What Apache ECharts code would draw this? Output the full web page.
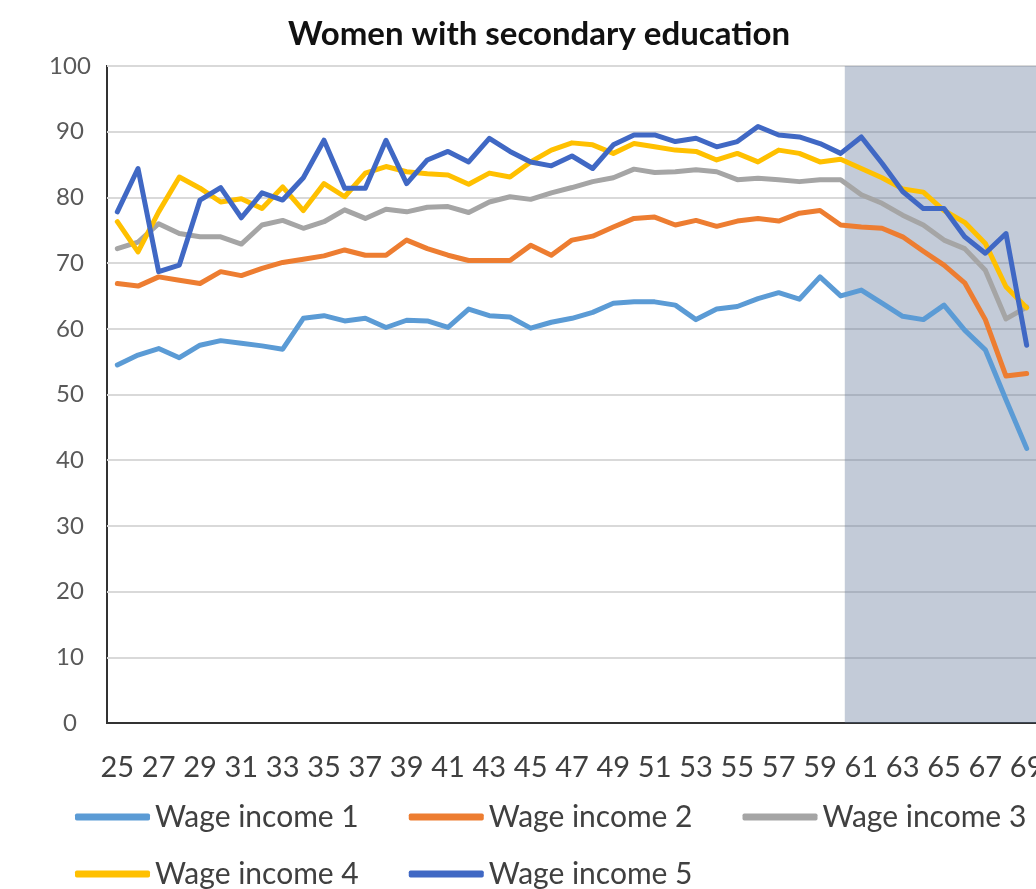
<!DOCTYPE html>
<html>
<head>
<meta charset="utf-8">
<title>Women with secondary education</title>
<script src="https://cdn.jsdelivr.net/npm/echarts@6/dist/echarts.min.js"></script>
<style>
  html, body { margin: 0; padding: 0; background: #fff; }
  #chart { width: 1036px; height: 889px; }
</style>
</head>
<body>
<div id="chart"></div>
<script>
  // ages on the x axis
  var ages = [];
  for (var a = 25; a <= 69; a++) ages.push(String(a));

  var wage1 = [54.5, 56.0, 57.0, 55.6, 57.5, 58.2, 57.8, 57.4, 56.9, 61.6,
               62.0, 61.2, 61.6, 60.2, 61.3, 61.2, 60.2, 63.0, 62.0, 61.8,
               60.1, 61.0, 61.6, 62.5, 63.9, 64.1, 64.1, 63.6, 61.4, 63.0,
               63.4, 64.6, 65.5, 64.5, 67.9, 65.0, 65.9, 63.9, 61.9, 61.4,
               63.6, 59.8, 56.8, 49.2, 41.8];
  var wage2 = [66.9, 66.5, 67.9, 67.4, 66.9, 68.7, 68.1, 69.2, 70.1, 70.6,
               71.1, 72.0, 71.2, 71.2, 73.5, 72.2, 71.2, 70.4, 70.4, 70.4,
               72.7, 71.2, 73.5, 74.1, 75.5, 76.8, 77.0, 75.8, 76.5, 75.6,
               76.4, 76.8, 76.4, 77.6, 78.0, 75.8, 75.5, 75.3, 74.0, 71.8,
               69.7, 67.0, 61.4, 52.8, 53.2];
  var wage3 = [72.2, 73.2, 76.0, 74.5, 74.0, 74.0, 72.9, 75.8, 76.5, 75.3,
               76.3, 78.1, 76.8, 78.2, 77.8, 78.5, 78.6, 77.7, 79.3, 80.1,
               79.7, 80.7, 81.5, 82.4, 83.0, 84.3, 83.8, 83.9, 84.2, 83.9,
               82.7, 82.9, 82.7, 82.4, 82.7, 82.7, 80.4, 79.1, 77.3, 75.8,
               73.5, 72.2, 68.9, 61.5, 63.3];
  var wage4 = [76.3, 71.7, 77.8, 83.1, 81.4, 79.3, 79.8, 78.3, 81.6, 78.0,
               82.1, 80.1, 83.7, 84.7, 83.9, 83.6, 83.4, 82.0, 83.7, 83.1,
               85.4, 87.2, 88.3, 88.0, 86.7, 88.2, 87.7, 87.2, 87.0, 85.7,
               86.7, 85.4, 87.2, 86.7, 85.4, 85.8, 84.4, 83.0, 81.3, 80.8,
               78.0, 76.2, 73.0, 66.4, 63.2];
  var wage5 = [77.8, 84.4, 68.7, 69.7, 79.6, 81.5, 76.9, 80.7, 79.6, 83.0,
               88.7, 81.4, 81.4, 88.7, 82.1, 85.7, 87.0, 85.4, 89.0, 87.0,
               85.4, 84.8, 86.3, 84.4, 88.0, 89.5, 89.5, 88.5, 89.0, 87.7,
               88.5, 90.8, 89.5, 89.2, 88.2, 86.7, 89.2, 85.2, 80.9, 78.3,
               78.3, 74.0, 71.5, 74.5, 57.5];

  var seriesNames = ['Wage income 1', 'Wage income 2', 'Wage income 3', 'Wage income 4', 'Wage income 5'];
  var seriesColors = ['#5B9BD5', '#ED7D31', '#A5A5A5', '#FFC000', '#4068C4'];
  var seriesData = [wage1, wage2, wage3, wage4, wage5];

  // retirement-age band (in age units)
  var shadeFrom = 60.2;
  var shadeTo = 69.5;

  var chart = echarts.init(document.getElementById('chart'));

  var series = seriesData.map(function (d, i) {
    return {
      name: seriesNames[i],
      type: 'line',
      data: d,
      symbol: 'none',
      z: 2,
      lineStyle: { width: 5, color: seriesColors[i], cap: 'round', join: 'round' },
      itemStyle: { color: seriesColors[i] },
      animation: false
    };
  });

  series.push({
    name: 'shade',
    type: 'line',
    xAxisIndex: 1,
    data: [],
    z: 10,
    silent: true,
    animation: false,
    markArea: {
      silent: true,
      itemStyle: { color: 'rgba(90,110,146,0.36)' },
      data: [[{ xAxis: shadeFrom }, { xAxis: shadeTo }]]
    }
  });

  var legendText = { fontFamily: 'Lato', fontSize: 30, color: '#404040' };

  chart.setOption({
    backgroundColor: '#fff',
    title: {
      text: 'Women with secondary education',
      left: 534,
      top: 13,
      textAlign: 'center',
      textStyle: { fontFamily: 'Lato', fontWeight: 'bold', fontSize: 33, color: '#111' }
    },
    legend: [{
      data: seriesNames.slice(0, 3),
      left: 70,
      top: 797,
      itemWidth: 75,
      itemHeight: 7,
      itemGap: 50,
      icon: 'roundRect',
      textStyle: legendText
    }, {
      data: seriesNames.slice(3),
      left: 70,
      top: 854,
      itemWidth: 75,
      itemHeight: 7,
      itemGap: 50,
      icon: 'roundRect',
      textStyle: legendText
    }],
    grid: {
      left: 107,
      top: 66,
      right: -1,
      bottom: 166,
      outerBoundsMode: 'none',
      show: true,
      borderColor: '#333',
      borderWidth: 2,
      backgroundColor: 'transparent'
    },
    xAxis: [{
      type: 'category',
      data: ages,
      boundaryGap: true,
      axisLine: { show: true, lineStyle: { color: '#333', width: 2 } },
      axisTick: { show: false },
      axisLabel: { interval: 1, margin: 30, fontFamily: 'Lato', fontSize: 29, color: '#404040' }
    }, {
      type: 'value',
      min: 24.5,
      max: 69.5,
      show: false
    }],
    yAxis: {
      type: 'value',
      min: 0,
      max: 100,
      interval: 10,
      axisLine: { show: false },
      axisTick: { show: false },
      splitLine: { lineStyle: { color: '#D9D9D9', width: 2 } },
      axisLabel: { margin: 37, align: 'center', fontFamily: 'Lato', fontSize: 24, color: '#595959' }
    },
    series: series
  });
</script>
</body>
</html>
